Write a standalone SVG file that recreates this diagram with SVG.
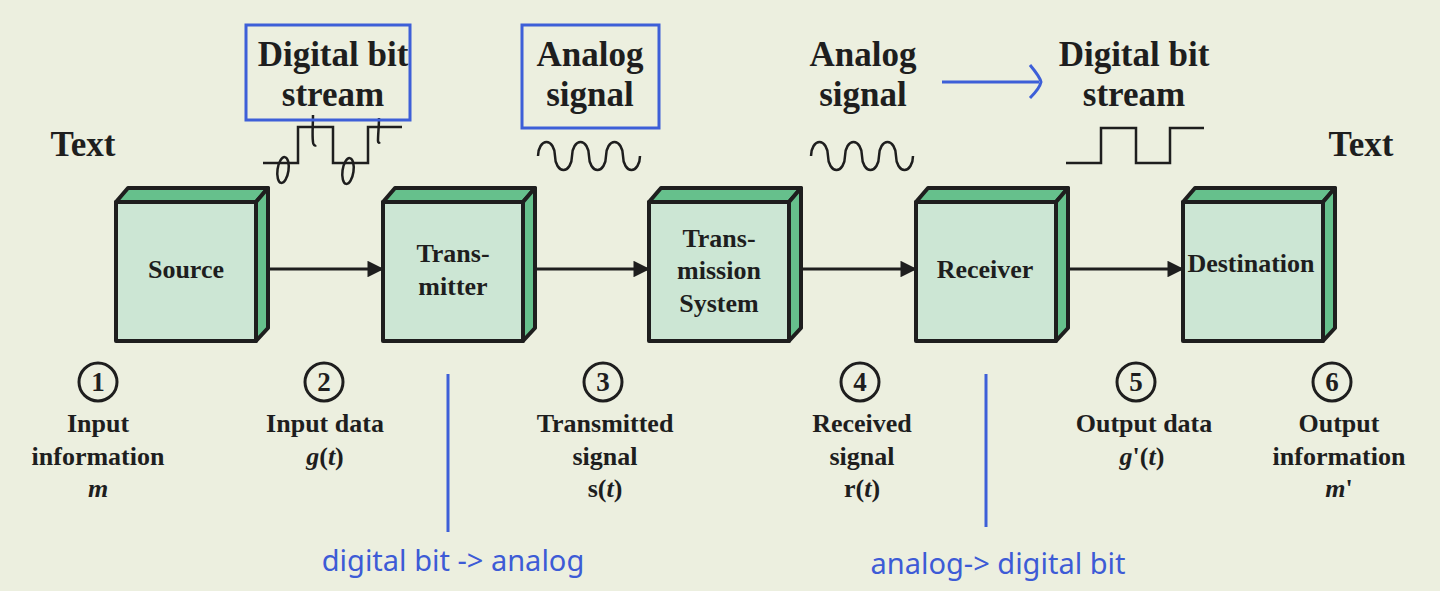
<svg xmlns="http://www.w3.org/2000/svg" width="1440" height="591" viewBox="0 0 1440 591">
<defs>
<style>
.t{font-family:"Liberation Serif","Times New Roman",serif;font-weight:bold;fill:#1e1e1e;text-anchor:middle}
.big{font-size:35px}
.lbl{font-size:26px}
.n{font-size:27px}
.front{fill:#cce6d4;stroke:#1e1e1e;stroke-width:4;stroke-linejoin:round}
.side{fill:#66c08c;stroke:#1e1e1e;stroke-width:4;stroke-linejoin:round}
.conn{stroke:#1e1e1e;stroke-width:3;fill:none}
.wave{stroke:#1e1e1e;stroke-width:2.5;fill:none}
.blue{stroke:#3d5fd8;stroke-width:3;fill:none}
.hand{font-family:"Noto Sans","DejaVu Sans",sans-serif;font-size:29px;fill:#3d5bd6;text-anchor:middle}
.num{fill:none;stroke:#1e1e1e;stroke-width:3}
</style>
<marker id="ah" viewBox="0 0 10 10" refX="10" refY="5" markerWidth="6" markerHeight="5.5" orient="auto" markerUnits="strokeWidth">
<path d="M0,0 L10,5 L0,10 z" fill="#1e1e1e"/>
</marker>
</defs>
<rect width="1440" height="591" fill="#ecefdf"/>

<g id="connectors">
<line class="conn" x1="262" y1="269" x2="384" y2="269" marker-end="url(#ah)"/>
<line class="conn" x1="529" y1="269" x2="650" y2="269" marker-end="url(#ah)"/>
<line class="conn" x1="795" y1="269" x2="917" y2="269" marker-end="url(#ah)"/>
<line class="conn" x1="1062" y1="269" x2="1184" y2="269" marker-end="url(#ah)"/>
</g>

<g id="source">
<polygon class="side" points="116,202 128,188 268,188 256,202"/>
<polygon class="side" points="256,202 268,188 268,328 256,341"/>
<rect class="front" x="116" y="202" width="140" height="139"/>
<text class="t lbl" x="186" y="278">Source</text>
</g>

<g id="transmitter">
<polygon class="side" points="383,202 395,188 535,188 523,202"/>
<polygon class="side" points="523,202 535,188 535,328 523,341"/>
<rect class="front" x="383" y="202" width="140" height="139"/>
<text class="t lbl" x="453" y="262">Trans-</text>
<text class="t lbl" x="453" y="295">mitter</text>
</g>

<g id="transmission-system">
<polygon class="side" points="649,202 661,188 801,188 789,202"/>
<polygon class="side" points="789,202 801,188 801,328 789,341"/>
<rect class="front" x="649" y="202" width="140" height="139"/>
<text class="t lbl" x="719" y="247">Trans-</text>
<text class="t lbl" x="719" y="279">mission</text>
<text class="t lbl" x="719" y="312">System</text>
</g>

<g id="receiver">
<polygon class="side" points="916,202 928,188 1068,188 1056,202"/>
<polygon class="side" points="1056,202 1068,188 1068,328 1056,341"/>
<rect class="front" x="916" y="202" width="140" height="139"/>
<text class="t lbl" x="985" y="278">Receiver</text>
</g>

<g id="destination">
<polygon class="side" points="1183,202 1195,188 1335,188 1323,202"/>
<polygon class="side" points="1323,202 1335,188 1335,328 1323,341"/>
<rect class="front" x="1183" y="202" width="140" height="139"/>
<text class="t lbl" x="1251" y="272">Destination</text>
</g>

<g id="top-labels">
<text class="t big" x="83" y="156">Text</text>
<text class="t big" x="1361" y="156">Text</text>
<text class="t big" x="333" y="66">Digital bit</text>
<text class="t big" x="333" y="106">stream</text>
<text class="t big" x="590" y="66">Analog</text>
<text class="t big" x="590" y="106">signal</text>
<text class="t big" x="863" y="66">Analog</text>
<text class="t big" x="863" y="106">signal</text>
<text class="t big" x="1134" y="66">Digital bit</text>
<text class="t big" x="1134" y="106">stream</text>
</g>

<g id="waveforms">
<path class="wave" d="M263,163 H298 V127 H333 V163 H368 V127 H402"/>
<path class="wave" d="M1066,163 H1101 V128 H1136 V163 H1170 V128 H1204"/>
<path class="wave" d="M538,156 C538,148 542,142 546.5,142 C551,142 555,148 555,156 C555,164 559,170 563.5,170 C568,170 572,164 572,156 C572,148 576,142 580.5,142 C585,142 589,148 589,156 C589,164 593,170 597.5,170 C602,170 606,164 606,156 C606,148 610,142 614.5,142 C619,142 623,148 623,156 C623,164 627,170 631.5,170 C636,170 640,164 640,156"/>
<path class="wave" d="M811,156 C811,148 815,142 819.5,142 C824,142 828,148 828,156 C828,164 832,170 836.5,170 C841,170 845,164 845,156 C845,148 849,142 853.5,142 C858,142 862,148 862,156 C862,164 866,170 870.5,170 C875,170 879,164 879,156 C879,148 883,142 887.5,142 C892,142 896,148 896,156 C896,164 900,170 904.5,170 C909,170 913,164 913,156"/>
<ellipse cx="283" cy="170" rx="5.5" ry="13" fill="none" stroke="#1e1e1e" stroke-width="2.5" transform="rotate(8 283 170)"/>
<ellipse cx="348" cy="171" rx="5.5" ry="13" fill="none" stroke="#1e1e1e" stroke-width="2.5" transform="rotate(8 348 171)"/>
<path class="wave" d="M313,115 C313,125 312,135 313,142 C313,145 315,146 316,145"/>
<path class="wave" d="M379,118 C379,126 378,134 378,141 C378,143 379,143 380,142"/>
</g>

<g id="blue-annotations">
<rect class="blue" x="246" y="25" width="164" height="95"/>
<rect class="blue" x="522" y="25" width="137" height="103"/>
<line class="blue" x1="942" y1="82" x2="1039" y2="82"/>
<path class="blue" d="M1030,65 C1035,71 1040,77 1041,82 C1040,87 1035,93 1030,98"/>
<line class="blue" x1="448" y1="374" x2="448" y2="532" stroke-width="2.5"/>
<line class="blue" x1="986" y1="374" x2="986" y2="527" stroke-width="2.5"/>
<text class="hand" x="453" y="571">digital bit -&gt; analog</text>
<text class="hand" x="998" y="574">analog-&gt; digital bit</text>
</g>

<g id="step-1">
<circle class="num" cx="98" cy="382" r="19"/>
<text class="t n" x="98" y="391">1</text>
<text class="t lbl" x="98" y="432">Input</text>
<text class="t lbl" x="98" y="465">information</text>
<text class="t lbl" x="98" y="497" font-style="italic">m</text>
</g>
<g id="step-2">
<circle class="num" cx="324" cy="382" r="19"/>
<text class="t n" x="324" y="391">2</text>
<text class="t lbl" x="325" y="432">Input data</text>
<text class="t lbl" x="325" y="465"><tspan font-style="italic">g</tspan>(<tspan font-style="italic">t</tspan>)</text>
</g>
<g id="step-3">
<circle class="num" cx="603" cy="382" r="19"/>
<text class="t n" x="603" y="391">3</text>
<text class="t lbl" x="605" y="432">Transmitted</text>
<text class="t lbl" x="605" y="465">signal</text>
<text class="t lbl" x="605" y="497">s(<tspan font-style="italic">t</tspan>)</text>
</g>
<g id="step-4">
<circle class="num" cx="860" cy="382" r="19"/>
<text class="t n" x="860" y="391">4</text>
<text class="t lbl" x="862" y="432">Received</text>
<text class="t lbl" x="862" y="465">signal</text>
<text class="t lbl" x="862" y="497">r(<tspan font-style="italic">t</tspan>)</text>
</g>
<g id="step-5">
<circle class="num" cx="1136" cy="382" r="19"/>
<text class="t n" x="1136" y="391">5</text>
<text class="t lbl" x="1144" y="432">Output data</text>
<text class="t lbl" x="1142" y="465"><tspan font-style="italic">g</tspan>'(<tspan font-style="italic">t</tspan>)</text>
</g>
<g id="step-6">
<circle class="num" cx="1332" cy="382" r="19"/>
<text class="t n" x="1332" y="391">6</text>
<text class="t lbl" x="1339" y="432">Output</text>
<text class="t lbl" x="1339" y="465">information</text>
<text class="t lbl" x="1339" y="497"><tspan font-style="italic">m</tspan>'</text>
</g>
</svg>
